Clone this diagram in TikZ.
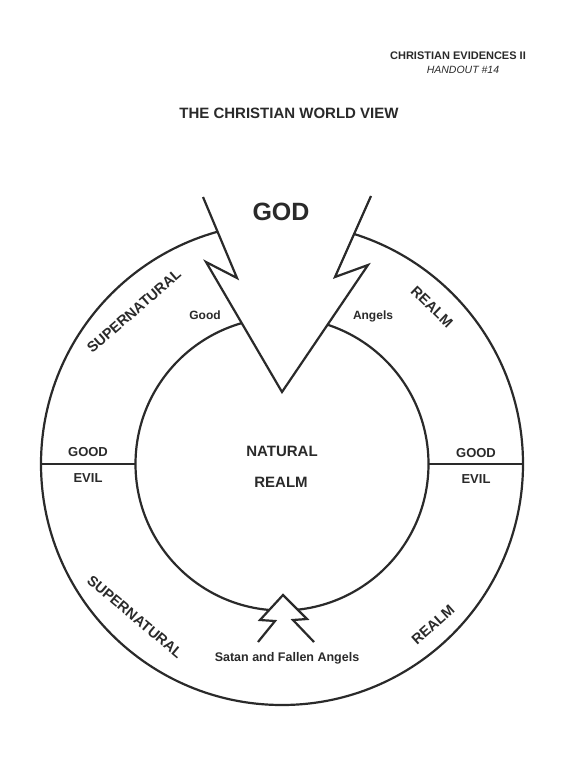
\documentclass[tikz,border=0pt]{standalone}
\usepackage{fontspec}
\setmainfont{Liberation Sans}
\definecolor{inkc}{HTML}{2A2A2A}
\begin{document}
\begin{tikzpicture}[x=1pt,y=-1pt,
  ink/.style={draw=inkc, line width=2.2pt, line join=miter},
  ring/.style={circle, draw=inkc, line width=2.2pt, inner sep=0pt, outer sep=0pt},
  capl/.style={text=inkc, font=\bfseries\fontsize{13}{13}\selectfont, inner sep=0pt},
  smal/.style={text=inkc, font=\bfseries\fontsize{12}{12}\selectfont, inner sep=0pt},
  arcl/.style={text=inkc, font=\bfseries\fontsize{14.5}{14.5}\selectfont, inner sep=0pt}]
\useasboundingbox[fill=white] (0,0) rectangle (576,768);

% header
\node[text=inkc, font=\bfseries\fontsize{11}{11}\selectfont, inner sep=0pt] (course) at (458,56) {CHRISTIAN EVIDENCES II};
\node[text=inkc, font=\itshape\fontsize{10.5}{10.5}\selectfont, inner sep=0pt] (handout) at (463,70) {HANDOUT \#14};
\node[text=inkc, font=\bfseries\fontsize{15}{15}\selectfont, inner sep=0pt] (title) at (289,113) {THE CHRISTIAN WORLD VIEW};

% circles
\node[ring, minimum size=482pt] (outer) at (282,464) {};
\node[ring, minimum size=293pt] (inner) at (282,464) {};
\draw[ink] (outer.west) -- (inner.west);
\draw[ink] (inner.east) -- (outer.east);

% top arrow (God)
\coordinate (a1) at (203,197);
\coordinate (a2) at (237,278);
\coordinate (a3) at (206,262);
\coordinate (tip) at (282,392);
\coordinate (b3) at (368,265);
\coordinate (b2) at (335,277);
\coordinate (b1) at (371,196);
\fill[white] (a1) -- (a2) -- (a3) -- (tip) -- (b3) -- (b2) -- (b1) -- cycle;
\draw[ink] (a1) -- (a2) -- (a3) -- (tip) -- (b3) -- (b2) -- (b1);

% bottom arrow (Satan)
\coordinate (p) at (283,595);
\coordinate (l1) at (260,620);
\coordinate (l2) at (275,621);
\coordinate (l3) at (258,642);
\coordinate (r1) at (307,619);
\coordinate (r2) at (293,620);
\coordinate (r3) at (314,642);
\fill[white] (p) -- (l1) -- (l2) -- (l3) -- (r3) -- (r2) -- (r1) -- cycle;
\draw[ink] (l3) -- (l2) -- (l1) -- (p) -- (r1) -- (r2) -- (r3);

% labels
\node[text=inkc, font=\bfseries\fontsize{25}{25}\selectfont, inner sep=0pt] (god) at (281,212) {GOD};
\node[smal] (good) at (205,315) {Good};
\node[smal] (angels) at (373,316) {Angels};
\node[capl] (goodl) at (88,452) {GOOD};
\node[capl] (evill) at (88,478) {EVIL};
\node[capl] (goodr) at (476,453) {GOOD};
\node[capl] (evilr) at (476,479) {EVIL};
\node[text=inkc, font=\bfseries\fontsize{15}{15}\selectfont, inner sep=0pt] (natural) at (282,451) {NATURAL};
\node[text=inkc, font=\bfseries\fontsize{15}{15}\selectfont, inner sep=0pt] (realmn) at (281,482) {REALM};
\node[smal, font=\bfseries\fontsize{12.5}{12.5}\selectfont] (satan) at (287,658) {Satan and Fallen Angels};
\node[arcl, rotate=41] (supul) at (134,311) {SUPERNATURAL};
\node[arcl, rotate=-44] (realmur) at (432,307) {REALM};
\node[arcl, rotate=-40] (supll) at (135,617) {SUPERNATURAL};
\node[arcl, rotate=42] (realmlr) at (433,625) {REALM};
\end{tikzpicture}
\end{document}
